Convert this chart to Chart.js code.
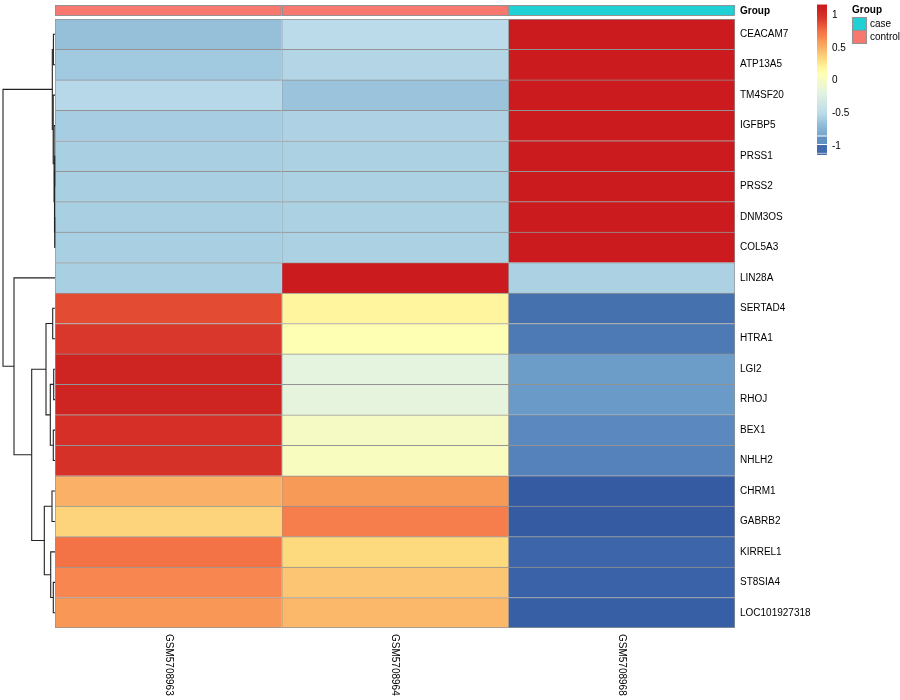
<!DOCTYPE html>
<html>
<head>
<meta charset="utf-8">
<script src="https://cdn.jsdelivr.net/npm/chart.js@4.4.1/dist/chart.umd.min.js"></script>
<style>
  html, body { margin: 0; padding: 0; background: #fff; }
  #wrap { width: 900px; height: 700px; }
</style>
</head>
<body>
<div id="wrap"><canvas id="heat" width="900" height="700"></canvas></div>
<script>
// rows, top to bottom (already in dendrogram order)
const genes = ['CEACAM7', 'ATP13A5', 'TM4SF20', 'IGFBP5', 'PRSS1', 'PRSS2', 'DNM3OS', 'COL5A3',
  'LIN28A', 'SERTAD4', 'HTRA1', 'LGI2', 'RHOJ', 'BEX1', 'NHLH2', 'CHRM1', 'GABRB2',
  'KIRREL1', 'ST8SIA4', 'LOC101927318'];
const samples = ['GSM5708963', 'GSM5708964', 'GSM5708968'];
const sampleGroup = ['control', 'control', 'case'];
const groupNames = ['case', 'control'];

// row-scaled values per sample
const gsm5708963 = [-0.65, -0.61, -0.52, -0.59, -0.58, -0.58, -0.58, -0.58,
  -0.58, 0.88, 0.95, 1.07, 1.07, 1.00, 0.99, 0.50, 0.36, 0.75, 0.66, 0.61];
const gsm5708964 = [-0.50, -0.54, -0.63, -0.56, -0.57, -0.57, -0.57, -0.57,
  1.15, 0.20, 0.10, -0.17, -0.16, 0.00, 0.03, 0.60, 0.70, 0.33, 0.42, 0.47];
const gsm5708968 = [1.15, 1.15, 1.15, 1.15, 1.15, 1.15, 1.15, 1.15,
  -0.57, -1.08, -1.05, -0.90, -0.91, -1.00, -1.02, -1.14, -1.14, -1.11, -1.12, -1.13];
const columns = [gsm5708963, gsm5708964, gsm5708968];

// colour key
const legendTicks = [1, 0.5, 0, -0.5, -1];
const legendLabels = ['1', '0.5', '0', '-0.5', '-1'];

// row dendrogram, hclust style: negative = leaf (1-based), positive = earlier merge
const mergeLeft  = [-1, -5, -7, 2, -4, -3, 1, -10, -12, -14, 9, 8, -16, -19, -18, 13, 12, -9, 7];
const mergeRight = [-2, -6, -8, 3, 4, 5, 6, -11, -13, -15, 10, 11, -17, -20, 14, 15, 16, 17, 18];
const mergeHeight = [1.6, 0.3, 0.3, 0.5, 0.9, 1.8, 2.7, 2.3, 1.3, 1.7, 4.7, 9.0, 3.0, 1.7, 4.3, 10.7, 23.3, 41, 52];

// --- styling ---
const FONT = "'Liberation Sans', Arial, Helvetica, sans-serif";
const GRID = '#939393';
const GROUP_COLORS = { case: '#1FD0D5', control: '#F8776F' };
const PAL_V = [-1.16, -1.12, -1.08, -1.0, -0.9, -0.65, -0.58, -0.5, -0.17, 0, 0.1, 0.2,
  0.33, 0.42, 0.5, 0.6, 0.66, 0.75, 0.88, 0.95, 1.05, 1.16];
const PAL_C = ['#2F549E', '#3A62A8', '#4571AE', '#5A88BF', '#6C9DC9', '#96C0DA', '#A9CFE2', '#BCDBEA',
  '#E5F4DF', '#F5FAC4', '#FFFFB3', '#FFF59E', '#FDDA7E', '#FCC574', '#FAB066', '#F89A57',
  '#F78650', '#F37346', '#E34B33', '#DA372C', '#D02723', '#CB1A1F'];

function hexRgb(h) {
  return [parseInt(h.slice(1, 3), 16), parseInt(h.slice(3, 5), 16), parseInt(h.slice(5, 7), 16)];
}
function colorFor(v) {
  if (v <= PAL_V[0]) return PAL_C[0];
  for (let i = 1; i < PAL_V.length; i++) {
    if (v <= PAL_V[i]) {
      const t = (v - PAL_V[i - 1]) / (PAL_V[i] - PAL_V[i - 1]);
      const a = hexRgb(PAL_C[i - 1]), b = hexRgb(PAL_C[i]);
      const c = a.map((x, k) => Math.round(x + (b[k] - x) * t));
      return `rgb(${c[0]},${c[1]},${c[2]})`;
    }
  }
  return PAL_C[PAL_C.length - 1];
}

Chart.defaults.font.family = FONT;
Chart.defaults.color = '#000';

// one floating-bar dataset per sample column
const datasets = columns.map((vals, c) => ({
  label: samples[c],
  data: vals.map(() => [c, c + 1]),
  backgroundColor: vals.map(colorFor),
  borderColor: GRID,
  borderSkipped: false,
  borderWidth: ctx => ({
    left: 1, top: 1,
    right: c === columns.length - 1 ? 1 : 0,
    bottom: ctx.dataIndex === genes.length - 1 ? 1 : 0
  }),
  barPercentage: 1,
  categoryPercentage: 1,
  grouped: false
}));

const extras = {
  id: 'heatExtras',
  afterDraw(chart) {
    const { ctx, chartArea, scales } = chart;
    const xs = scales.x, ys = scales.y;
    ctx.save();

    // column annotation bar
    sampleGroup.forEach((g, c) => {
      const x0 = xs.getPixelForValue(c), x1 = xs.getPixelForValue(c + 1);
      ctx.fillStyle = GROUP_COLORS[g];
      ctx.fillRect(x0, 5, x1 - x0, 10);
      ctx.strokeStyle = GRID;
      ctx.lineWidth = 1;
      ctx.strokeRect(Math.round(x0) + 0.5, 5.5, x1 - x0 - 1, 10);
    });
    ctx.fillStyle = '#000';
    ctx.font = `bold 10px ${FONT}`;
    ctx.textAlign = 'left';
    ctx.textBaseline = 'middle';
    ctx.fillText('Group', chartArea.right + 5, 11);

    // row dendrogram
    const maxH = Math.max(...mergeHeight);
    const hx = h => chartArea.left - h * (chartArea.left - 3) / maxH;
    const nodes = [];
    const pos = id => id < 0 ? { y: ys.getPixelForValue(-id - 1), h: 0 } : nodes[id - 1];
    ctx.strokeStyle = '#222';
    ctx.lineWidth = 1.1;
    mergeHeight.forEach((h, i) => {
      const a = pos(mergeLeft[i]), b = pos(mergeRight[i]);
      const x = hx(h);
      ctx.beginPath();
      ctx.moveTo(hx(a.h), a.y); ctx.lineTo(x, a.y);
      ctx.lineTo(x, b.y); ctx.lineTo(hx(b.h), b.y);
      ctx.stroke();
      nodes.push({ y: (a.y + b.y) / 2, h });
    });

    // column labels, rotated
    ctx.fillStyle = '#000';
    ctx.font = `10px ${FONT}`;
    samples.forEach((s, c) => {
      ctx.save();
      ctx.translate(xs.getPixelForValue(c + 0.5), chartArea.bottom + 6);
      ctx.rotate(Math.PI / 2);
      ctx.textAlign = 'left';
      ctx.textBaseline = 'middle';
      ctx.fillText(s, 0, 0);
      ctx.restore();
    });

    // colour key
    const lx = 817, lw = 10;
    const ly = v => 80.5 - 65.5 * v;
    const grad = ctx.createLinearGradient(0, ly(1.16), 0, ly(-1.16));
    PAL_V.forEach((v, i) => grad.addColorStop((1.16 - v) / 2.32, PAL_C[i]));
    ctx.fillStyle = grad;
    ctx.fillRect(lx, ly(1.16), lw, ly(-0.84) - ly(1.16));
    [[-0.855, -0.97], [-0.985, -1.105], [-1.115, -1.135]].forEach(([a, b]) => {
      ctx.fillStyle = colorFor((a + b) / 2 - 0.05);
      ctx.fillRect(lx, ly(a), lw, ly(b) - ly(a));
    });
    ctx.fillStyle = '#000';
    ctx.font = `10px ${FONT}`;
    ctx.textAlign = 'left';
    ctx.textBaseline = 'middle';
    legendTicks.forEach((t, i) => ctx.fillText(legendLabels[i], lx + 15, ly(t)));

    // group legend
    ctx.font = `bold 10px ${FONT}`;
    ctx.fillText('Group', 852, 10);
    ctx.font = `10px ${FONT}`;
    groupNames.forEach((g, i) => {
      const y = 17 + i * 13;
      ctx.fillStyle = GROUP_COLORS[g];
      ctx.fillRect(852, y, 14, 13);
      ctx.strokeStyle = GRID;
      ctx.strokeRect(852.5, y + 0.5, 14, 13);
      ctx.fillStyle = '#000';
      ctx.fillText(g, 870, y + 7);
    });
    ctx.restore();
  }
};

new Chart(document.getElementById('heat'), {
  type: 'bar',
  data: { labels: genes, datasets },
  options: {
    indexAxis: 'y',
    responsive: false,
    animation: false,
    devicePixelRatio: 1,
    layout: { padding: { left: 55, top: 19, right: 0, bottom: 72 } },
    plugins: { legend: { display: false }, tooltip: { enabled: false } },
    scales: {
      x: { type: 'linear', min: 0, max: 3, display: false },
      y: {
        position: 'right',
        offset: true,
        grid: { display: false, drawTicks: false },
        border: { display: false },
        ticks: { padding: 5, font: { size: 10 }, color: '#000', autoSkip: false },
        afterFit(scale) { scale.width = 165; }
      }
    }
  },
  plugins: [extras]
});
</script>
</body>
</html>
